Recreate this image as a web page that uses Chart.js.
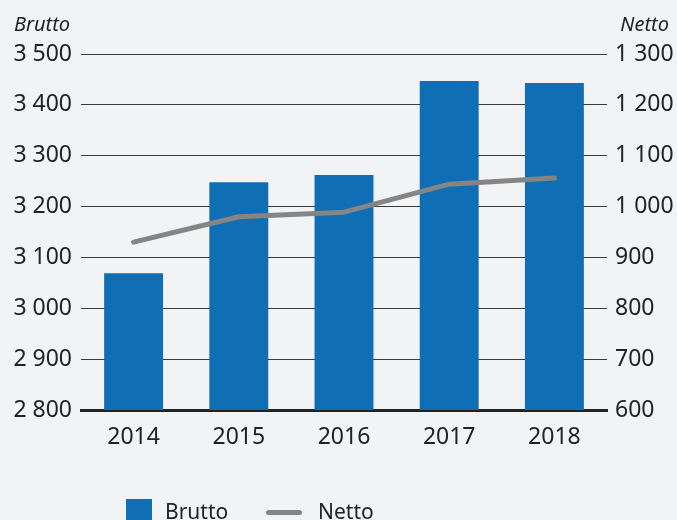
<!DOCTYPE html>
<html>
<head>
<meta charset="utf-8">
<script src="https://cdn.jsdelivr.net/npm/chart.js@4"></script>
<style>
  html, body { margin:0; padding:0; background:#f2f3f5; }
  #wrap { position:relative; width:677px; height:520px; overflow:hidden; background:#f2f3f5; }
  canvas { position:absolute; left:0; top:0; }
  .lg { position:absolute; font-family:"Noto Sans", sans-serif; font-size:21px; color:#222; line-height:1; }
</style>
</head>
<body>
<div id="wrap">
  <canvas id="c" width="677" height="520"></canvas>
  <div style="position:absolute;left:126px;top:499px;width:26px;height:30px;background:#0f6eb4;"></div>
  <div class="lg" style="left:165px;top:501px;">Brutto</div>
  <div style="position:absolute;left:266px;top:510px;width:36px;height:5px;border-radius:3px;background:#858585;"></div>
  <div class="lg" style="left:318px;top:501px;">Netto</div>
</div>
<script>
const categories = ['2014', '2015', '2016', '2017', '2018'];
const brutto = [3069, 3248, 3262, 3447, 3443];
const netto = [930, 980, 989, 1044, 1056];
const leftTitle = 'Brutto';
const rightTitle = 'Netto';

const FONT = '"Noto Sans", sans-serif';
const fmt = v => String(v).replace(/\B(?=(\d{3})+(?!\d))/g, ' ');

const titles = {
  id: 'axisTitles',
  afterDraw(chart) {
    const ctx = chart.ctx;
    ctx.save();
    ctx.fillStyle = '#222';
    ctx.font = 'italic 20px ' + FONT;
    ctx.textBaseline = 'alphabetic';
    ctx.textAlign = 'left';
    ctx.fillText(leftTitle, 14, 31);
    ctx.textAlign = 'right';
    ctx.fillText(rightTitle, 669, 31);
    ctx.restore();
  }
};

new Chart(document.getElementById('c'), {
  data: {
    labels: categories,
    datasets: [
      { type: 'line', label: 'Netto', data: netto, yAxisID: 'y2', order: 0,
        borderColor: '#858585', borderWidth: 5, pointRadius: 0, borderCapStyle: 'round',
        borderJoinStyle: 'round', tension: 0, fill: false },
      { type: 'bar', label: 'Brutto', data: brutto, yAxisID: 'y', order: 1,
        backgroundColor: '#0f6eb4', categoryPercentage: 1, barPercentage: 0.56, borderWidth: 0 }
    ]
  },
  options: {
    responsive: false,
    animation: false,
    layout: { padding: { top: 54, bottom: 60, left: 0, right: 0 } },
    plugins: { legend: { display: false }, tooltip: { enabled: false } },
    scales: {
      x: {
        grid: { display: false, drawTicks: false },
        border: { color: '#222', width: 3 },
        ticks: { color: '#222', font: { family: FONT, size: 23 }, padding: 14 },
        afterFit(s) { s.height = 50; }
      },
      y: {
        position: 'left', min: 2800, max: 3500,
        grid: { color: '#3a3a3a', lineWidth: 1, drawTicks: false },
        border: { display: false },
        ticks: { stepSize: 100, color: '#222', font: { family: FONT, size: 23 }, padding: 9, callback: v => fmt(v) },
        afterFit(s) { s.width = 81; }
      },
      y2: {
        position: 'right', min: 600, max: 1300,
        grid: { display: false, drawTicks: false },
        border: { display: false },
        ticks: { stepSize: 100, color: '#222', font: { family: FONT, size: 23 }, padding: 8, callback: v => fmt(v) },
        afterFit(s) { s.width = 70; }
      }
    }
  },
  plugins: [titles]
});
</script>
</body>
</html>
